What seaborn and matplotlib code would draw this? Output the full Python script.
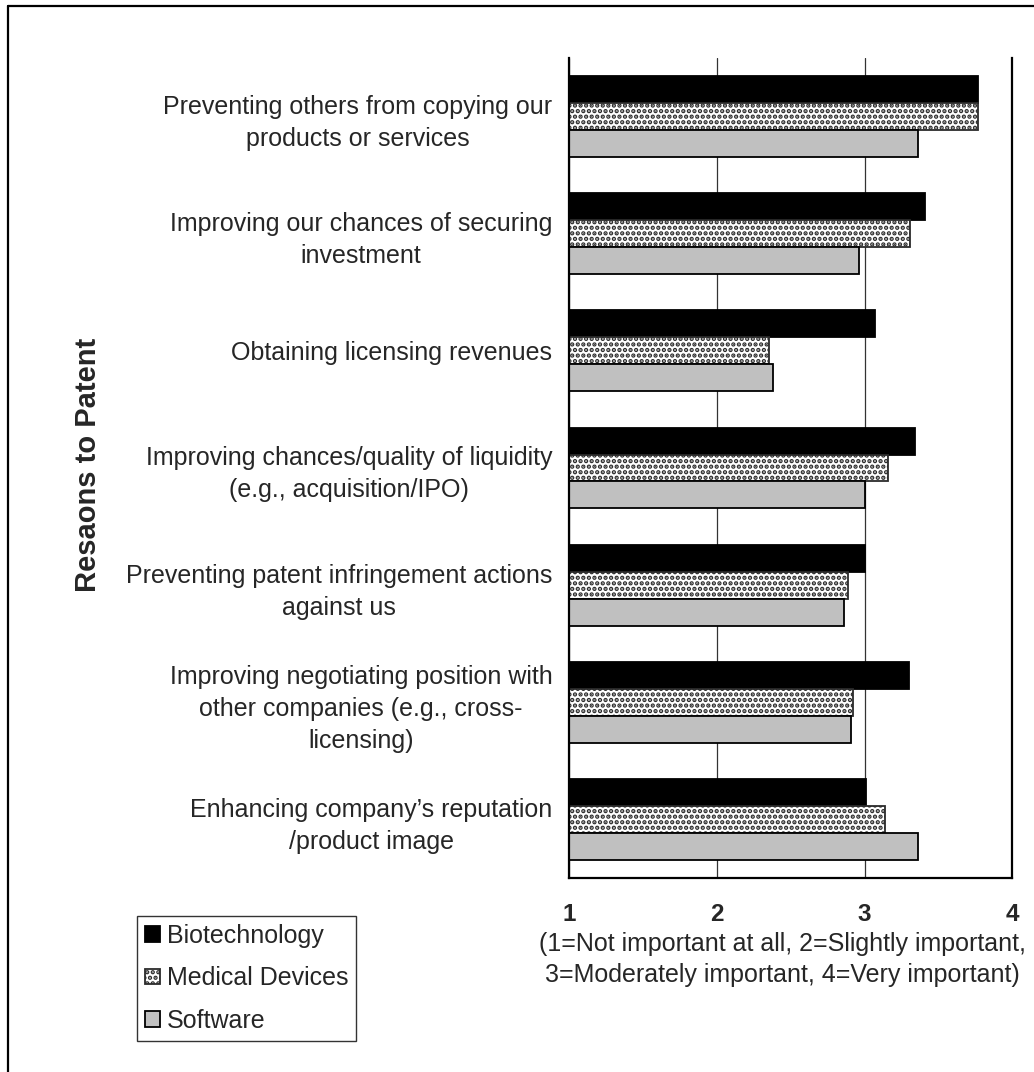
import matplotlib
matplotlib.use("Agg")
import matplotlib.pyplot as plt
import seaborn as sns
import pandas as pd

# reasons (top to bottom) and mean importance per sector
reasons = [
    "Preventing others from copying our\nproducts or services",
    "Improving our chances of securing\ninvestment",
    "Obtaining licensing revenues",
    "Improving chances/quality of liquidity\n(e.g., acquisition/IPO)",
    "Preventing patent infringement actions\nagainst us",
    "Improving negotiating position with\nother companies (e.g., cross-\nlicensing)",
    "Enhancing company\u2019s reputation\n/product image",
]
sectors = ["Biotechnology", "Medical Devices", "Software"]
biotech = [3.77, 3.41, 3.07, 3.34, 3.00, 3.30, 3.01]
med_devices = [3.77, 3.31, 2.35, 3.16, 2.89, 2.92, 3.14]
software = [3.36, 2.96, 2.38, 3.00, 2.86, 2.91, 3.36]
x_ticks = [1, 2, 3, 4]

df = pd.DataFrame({
    "reason": reasons * 3,
    "sector": [s for s in sectors for _ in reasons],
    "score": biotech + med_devices + software,
})

sns.set_style("white")
plt.rcParams["font.family"] = ["Liberation Sans", "DejaVu Sans"]
plt.rcParams["hatch.linewidth"] = 2.2

fig = plt.figure(figsize=(10.34, 10.72), dpi=100)
ax = fig.add_axes([0.5503, 0.181, 0.4289, 0.7649])

palette = {"Biotechnology": "black", "Medical Devices": "white", "Software": "#c0c0c0"}
sns.barplot(data=df, x="score", y="reason", hue="sector", hue_order=sectors,
            order=reasons, palette=palette, orient="h", width=0.69,
            edgecolor="black", linewidth=1.3, saturation=1, legend=False, ax=ax)

# dotted fill for medical devices
for bar in ax.containers[1]:
    bar.set_hatch("...")
    bar.set_edgecolor("#2b2b2b")

ax.set_xlim(1, 4)
ax.set_ylim(len(reasons) - 0.5, -0.5)
ax.set_xticks(x_ticks)
ax.set_xticklabels([str(t) for t in x_ticks], fontsize=17.5, fontweight="bold")
ax.tick_params(axis="x", direction="out", length=7, width=1, color="black", pad=11)
ax.xaxis.grid(True, color="#333333", linewidth=0.9)
ax.set_axisbelow(True)

# category labels centred, boundary ticks between groups
ax.set_yticks(range(len(reasons)))
ax.set_yticklabels(reasons, fontsize=18, multialignment="center", linespacing=1.42)
ax.tick_params(axis="y", which="major", length=0, pad=12)
ax.set_yticks([i - 0.5 for i in range(len(reasons) + 1)], minor=True)
ax.tick_params(axis="y", which="minor", direction="out", length=7, width=1, color="black")

for side in ["left", "bottom", "right"]:
    ax.spines[side].set_color("black")
    ax.spines[side].set_linewidth(1.6)
ax.spines["top"].set_visible(False)

ax.set_xlabel("")
ax.set_ylabel("")
fig.text(0.085, 0.566, "Resaons to Patent", rotation=90, ha="center", va="center",
         fontsize=21, fontweight="bold")
fig.text(0.757, 0.105,
         "(1=Not important at all, 2=Slightly important,\n3=Moderately important, 4=Very important)",
         ha="center", va="center", fontsize=18, linespacing=1.33)

leg = fig.legend(ax.containers, sectors, loc="upper left", bbox_to_anchor=(0.1325, 0.1455),
                 fontsize=18, frameon=True, fancybox=False, handlelength=0.6,
                 handleheight=0.6, handletextpad=0.3, labelspacing=0.75, borderpad=0.3,
                 borderaxespad=0)
leg.get_frame().set_edgecolor("black")
leg.get_frame().set_linewidth(1)

# outer chart border (left and top edges visible)
fig.add_artist(plt.Line2D([0.0077, 0.0077], [0.0, 0.9944], color="black", linewidth=1.6,
                          transform=fig.transFigure))
fig.add_artist(plt.Line2D([0.0077, 1.0], [0.9944, 0.9944], color="black", linewidth=1.6,
                          transform=fig.transFigure))

fig.savefig("out.png", dpi=100, facecolor="white")
